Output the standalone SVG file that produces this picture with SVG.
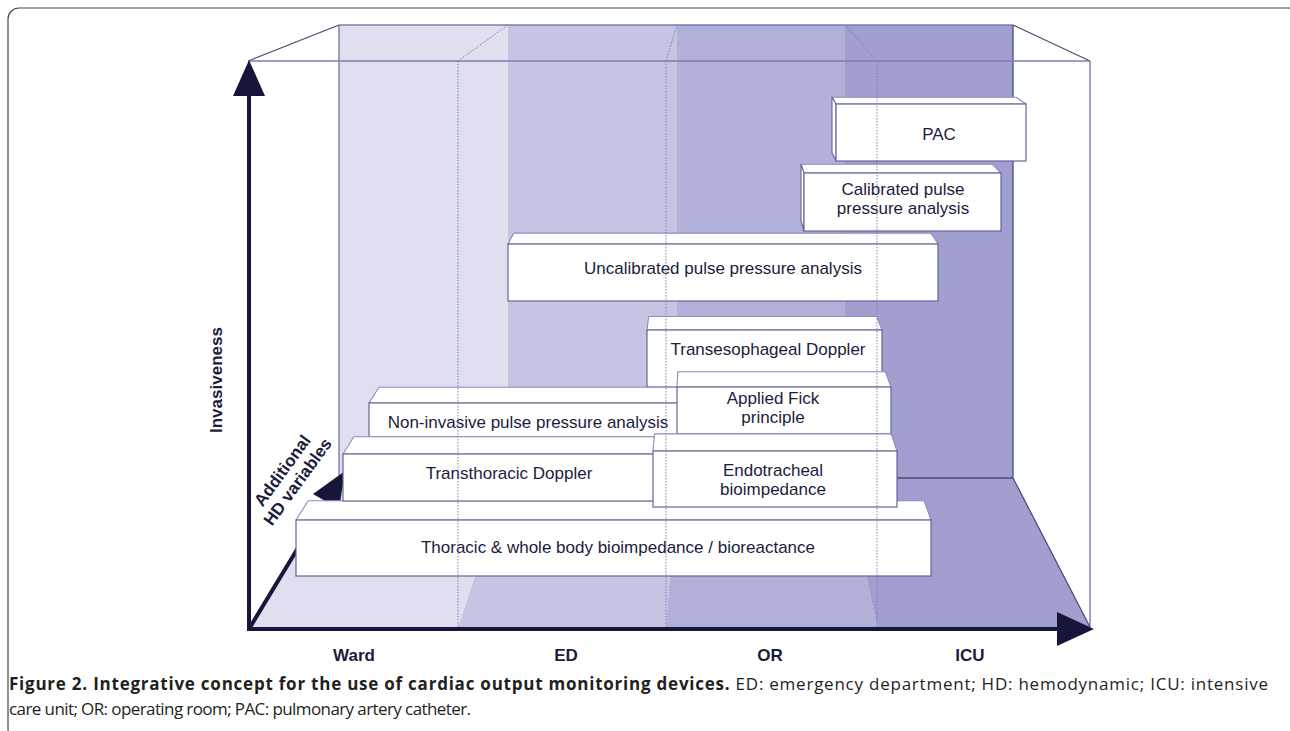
<svg xmlns="http://www.w3.org/2000/svg" width="1290" height="731" viewBox="0 0 1290 731">
<style>
.frame{fill:none;stroke:#4a4a4a;stroke-width:1.2}
.ward{fill:#dfdfef}.ed{fill:#c5c5e3}.or{fill:#b0b0d9}.icu{fill:#a09fcf}
.edge{fill:none;stroke:#7c7cae;stroke-width:1.4}
.edge-dk{fill:none;stroke:#4c4c7a;stroke-width:1.3}
.dot{fill:none;stroke:#8080b2;stroke-width:1;stroke-dasharray:1.5 1.5}
.bf{fill:#ffffff;stroke:#65659a;stroke-width:1.2}
.bt{fill:#ffffff;stroke:#8c8cc0;stroke-width:1.1;stroke-linejoin:round}
.bs{fill:#ffffff;stroke:#65659a;stroke-width:1.1;stroke-linejoin:round}
.t{font-family:"Liberation Sans",Arial,Helvetica,sans-serif;font-size:17px;fill:#1c1c3c;text-anchor:middle}
.b{font-weight:bold}
.ax{fill:none;stroke:#16163a;stroke-width:4}
.ah{fill:#16163a}
.cap{font-family:"Open Sans","Noto Sans","Liberation Sans",sans-serif;font-size:17px;fill:#231f20}
</style>

<rect class="frame" x="8" y="8" width="1292" height="732" rx="11"/>

<g id="walls">
  <rect class="ward" x="339" y="25" width="169" height="453"/>
  <rect class="ed" x="508" y="25" width="169" height="453"/>
  <rect class="or" x="677" y="25" width="168" height="453"/>
  <rect class="icu" x="845" y="25" width="168" height="453"/>
  <polygon class="ward" points="339,478 508,478 458,627 248,627"/>
  <polygon class="ed" points="508,478 677,478 666,627 458,627"/>
  <polygon class="or" points="677,478 845,478 877,627 666,627"/>
  <polygon class="icu" points="845,478 1013,478 1090,627 877,627"/>
</g>

<g id="box-frame">
  <line class="edge" x1="339" y1="25" x2="1013" y2="25"/>
  <line class="edge" x1="339" y1="25" x2="339" y2="478"/>
  <line class="edge-dk" x1="1013" y1="25" x2="1013" y2="478"/>
  <line class="edge-dk" x1="339" y1="478" x2="1013" y2="478"/>
  <line class="edge-dk" x1="248" y1="61" x2="339" y2="25"/>
  <line class="edge-dk" x1="1013" y1="25" x2="1090" y2="61"/>
  <line class="edge" x1="248" y1="61" x2="1090" y2="61"/>
  <line class="edge" x1="1090" y1="61" x2="1090" y2="627"/>
  <line class="edge-dk" x1="1013" y1="478" x2="1090" y2="627"/>
  <line class="dot" x1="508" y1="25" x2="458" y2="61"/>
  <line class="dot" x1="677" y1="25" x2="666" y2="61"/>
  <line class="dot" x1="845" y1="25" x2="877" y2="61"/>
</g>

<g id="connectors">
  <g id="axis-hd">
    <line class="ax" x1="249" y1="629" x2="327" y2="500"/>
    <polygon class="ah" points="345,471 313,494 339,509"/>
  </g>
</g>

<g id="node-pac">
  <polygon class="bt" points="836,104 1026,104 1016.3,97.3 832,97.3"/>
  <polygon class="bs" points="836,104 832,97.3 832,152.6 836,161"/>
  <rect class="bf" x="836" y="104" width="190" height="57"/>
  <text class="t" x="939" y="140">PAC</text>
</g>

<g id="node-calibrated">
  <polygon class="bt" points="804,173 1001,173 992.1,164.2 801,164.2"/>
  <polygon class="bs" points="804,173 801,164.2 801,220.5 804,231"/>
  <rect class="bf" x="804" y="173" width="197" height="58"/>
  <text class="t" x="903" y="195">Calibrated pulse<tspan x="903" dy="18.5">pressure analysis</tspan></text>
</g>

<g id="node-uncalibrated">
  <polygon class="bt" points="508,244 938,244 931,233.1 513.9,233.1"/>
  <rect class="bf" x="508" y="244" width="430" height="57"/>
  <text class="t" x="723" y="274">Uncalibrated pulse pressure analysis</text>
</g>

<g id="node-transesophageal">
  <polygon class="bt" points="647,330 882,330 876.7,316.5 648.7,316.5"/>
  <rect class="bf" x="647" y="330" width="235" height="57"/>
  <text class="t" x="768" y="355">Transesophageal Doppler</text>
</g>

<g id="node-noninvasive">
  <polygon class="bt" points="369,403 680,403 680.7,387.3 379,387.3"/>
  <rect class="bf" x="369" y="403" width="311" height="34"/>
  <text class="t" x="528" y="428">Non-invasive pulse pressure analysis</text>
</g>

<g id="node-fick">
  <polygon class="bt" points="677,387 891,387 885.4,371.8 677.8,371.8"/>
  <rect class="bf" x="677" y="387" width="214" height="47"/>
  <text class="t" x="773" y="404">Applied Fick<tspan x="773" dy="19">principle</tspan></text>
</g>

<g id="node-thoracic">
  <polygon class="bt" points="296,520 931,520 924.2,500.8 308.2,500.8"/>
  <rect class="bf" x="296" y="520" width="635" height="56"/>
  <text class="t" x="618" y="553">Thoracic &amp; whole body bioimpedance / bioreactance</text>
</g>

<g id="node-transthoracic">
  <polygon class="bt" points="343,454 660,454 661.3,436.8 353.8,436.8"/>
  <rect class="bf" x="343" y="454" width="317" height="47"/>
  <text class="t" x="509" y="479">Transthoracic Doppler</text>
</g>

<g id="node-endotracheal">
  <polygon class="bt" points="653,451 897,451 891.2,433.9 654.5,433.9"/>
  <rect class="bf" x="653" y="451" width="244" height="56"/>
  <text class="t" x="773" y="476">Endotracheal<tspan x="773" dy="19">bioimpedance</tspan></text>
</g>

<g id="front-dividers">
  <line class="dot" x1="458" y1="61" x2="458" y2="627"/>
  <line class="dot" x1="666" y1="61" x2="666" y2="627"/>
  <line class="dot" x1="877" y1="61" x2="877" y2="627"/>
</g>

<g id="axes">
  <line class="ax" x1="249" y1="631" x2="249" y2="92"/>
  <polygon class="ah" points="249,60 233,96 265,96"/>
  <line class="ax" x1="247" y1="629" x2="1060" y2="629"/>
  <polygon class="ah" points="1094,629 1057,612 1057,646"/>
</g>

<g id="labels">
  <text class="t b" transform="translate(222,380) rotate(-90)" textLength="106" lengthAdjust="spacing">Invasiveness</text>
  <text class="t b" transform="translate(287,474) rotate(-54)">Additional<tspan x="0" dy="19">HD variables</tspan></text>
  <text class="t b" x="354" y="661">Ward</text>
  <text class="t b" x="566" y="661">ED</text>
  <text class="t b" x="770" y="661">OR</text>
  <text class="t b" x="970" y="661">ICU</text>
</g>

<g id="caption">
  <text class="cap" x="9" y="690" textLength="1259" lengthAdjust="spacing"><tspan font-weight="bold">Figure 2. Integrative concept for the use of cardiac output monitoring devices.</tspan> ED: emergency department; HD: hemodynamic; ICU: intensive</text>
  <text class="cap" x="9" y="715" textLength="462" lengthAdjust="spacing">care unit; OR: operating room; PAC: pulmonary artery catheter.</text>
</g>
</svg>
